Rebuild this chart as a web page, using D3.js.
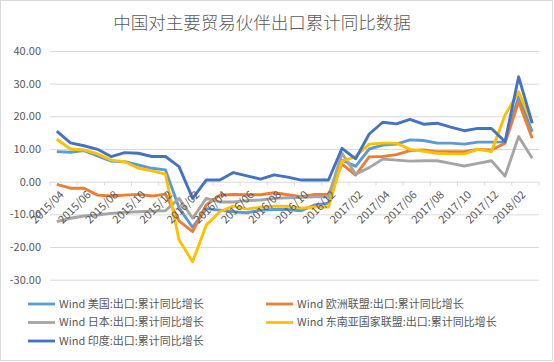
<!DOCTYPE html>
<html>
<head>
<meta charset="UTF-8" />
<script src="https://d3js.org/d3.v7.min.js"></script>
<style>
  body { margin: 0; background: #fff; }
  text { font-family: "Noto Sans CJK SC", "Noto Sans", sans-serif; fill: #595959; }
</style>
</head>
<body>
<div id="chart"></div>
<script>
  // months 2015/04 .. 2018/03
  var months = [
    "2015/04","2015/05","2015/06","2015/07","2015/08","2015/09","2015/10","2015/11","2015/12",
    "2016/01","2016/02","2016/03","2016/04","2016/05","2016/06","2016/07","2016/08","2016/09","2016/10","2016/11","2016/12",
    "2017/01","2017/02","2017/03","2017/04","2017/05","2017/06","2017/07","2017/08","2017/09","2017/10","2017/11","2017/12",
    "2018/01","2018/02","2018/03"
  ];
  var usa = [9.2,9.0,9.5,7.9,6.3,6.1,5.1,4.1,3.6,-8.0,-14.0,-8.3,-8.7,-9.2,-9.5,-8.7,-8.5,-8.5,-8.9,-7.1,-6.6,
    6.6,4.7,10.0,11.2,11.5,12.8,12.6,11.8,11.8,11.5,12.1,12.1,12.2,26.0,15.3];
  var eu = [-0.8,-2.0,-2.0,-4.1,-4.4,-4.1,-3.9,-4.4,-3.8,-12.0,-15.3,-7.1,-4.1,-3.9,-4.0,-4.0,-3.4,-4.0,-4.6,-3.9,-3.9,
    5.4,2.0,7.6,7.7,8.3,9.5,9.7,9.2,9.2,9.2,9.9,9.7,11.8,24.5,13.3];
  var japan = [-12.2,-11.2,-10.5,-10.2,-9.7,-9.4,-9.2,-9.0,-8.9,-5.1,-11.2,-5.1,-6.2,-6.2,-5.8,-5.6,-5.1,-4.9,-4.8,-4.6,-4.6,
    8.7,2.3,4.3,6.9,6.6,6.3,6.4,6.4,5.6,4.8,5.6,6.4,1.7,13.8,7.2];
  var asean = [13.0,10.0,9.7,8.5,6.6,6.1,4.1,3.3,2.3,-17.8,-24.5,-13.3,-9.2,-7.5,-8.4,-7.8,-7.5,-7.5,-8.1,-7.8,-7.8,
    6.3,7.7,11.5,11.8,11.8,9.9,9.3,8.7,8.5,8.5,9.9,9.2,20.4,27.5,17.9];
  var india = [15.5,11.9,11.0,9.9,7.7,8.9,8.7,7.7,7.7,4.6,-5.1,0.5,0.5,2.8,1.8,0.8,2.1,1.4,0.5,0.5,0.5,
    10.2,7.0,14.6,18.2,17.7,19.1,17.6,17.9,16.7,15.6,16.3,16.3,12.2,32.1,17.9];
  var seriesNames = [
    "Wind 美国:出口:累计同比增长",
    "Wind 欧洲联盟:出口:累计同比增长",
    "Wind 日本:出口:累计同比增长",
    "Wind 东南亚国家联盟:出口:累计同比增长",
    "Wind 印度:出口:累计同比增长"
  ];
  var yTicks = [-30, -20, -10, 0, 10, 20, 30, 40];
  var title = "中国对主要贸易伙伴出口累计同比数据";

  var colors = ["#5b9bd5", "#ed7d31", "#a5a5a5", "#ffc000", "#4472c4"];
  var allSeries = [usa, eu, japan, asean, india];

  var W = 554, H = 362;
  var svg = d3.select("#chart").append("svg")
    .attr("width", W)
    .attr("height", H);

  svg.append("rect")
    .attr("x", 0.5).attr("y", 0.5)
    .attr("width", 552).attr("height", 360)
    .attr("fill", "#fff")
    .attr("stroke", "#d9d9d9");

  svg.append("text")
    .attr("x", 262).attr("y", 29)
    .attr("text-anchor", "middle")
    .style("font-size", "17.5px")
    .style("font-weight", 300)
    .text(title);

  var x = d3.scaleBand().domain(months).range([50, 539]).padding(0);
  var y = d3.scaleLinear().domain([-30, 40]).range([279.7, 51]);
  var cx = d => x(d) + x.bandwidth() / 2;

  // gridlines + y labels
  var yAxis = svg.append("g")
    .attr("transform", "translate(50,0)")
    .call(d3.axisLeft(y).tickValues(yTicks).tickSize(-489).tickPadding(9)
      .tickFormat(d => d.toFixed(2)));
  yAxis.select(".domain").remove();
  yAxis.selectAll(".tick line").attr("stroke", "#d9d9d9");
  yAxis.selectAll(".tick text").style("font-size", "11px").attr("fill", "#595959");

  // category axis on the zero line
  var y0 = y(0);
  var tickMonths = months.filter((m, i) => i % 2 === 0);
  var tickX = tickMonths.map(m => x(m)).concat([x.range()[1]]);
  svg.append("g").selectAll("line")
    .data(tickX)
    .enter().append("line")
    .attr("x1", d => d).attr("x2", d => d)
    .attr("y1", y0).attr("y2", y0 + 4)
    .attr("stroke", "#d9d9d9");

  // lines
  allSeries.forEach(function (s, k) {
    var line = d3.line()
      .x((d, i) => cx(months[i]))
      .y(d => y(d));
    svg.append("path")
      .datum(s)
      .attr("fill", "none")
      .attr("stroke", colors[k])
      .attr("stroke-width", 2.9)
      .attr("stroke-linejoin", "round")
      .attr("d", line);
  });

  // x labels (drawn over lines like the original)
  svg.append("g").selectAll("text")
    .data(tickMonths)
    .enter().append("text")
    .attr("transform", d => "translate(" + (cx(d) + 5) + "," + (y0 + 11) + ") rotate(-45)")
    .attr("text-anchor", "end")
    .attr("dy", "0.35em")
    .style("font-size", "11px")
    .text(d => d);

  // legend
  var legendPos = [[28, 304], [266, 304], [28, 322.5], [266, 322.5], [28, 341]];
  var lg = svg.append("g").selectAll("g")
    .data(seriesNames)
    .enter().append("g")
    .attr("transform", (d, i) => "translate(" + legendPos[i][0] + "," + legendPos[i][1] + ")");
  lg.append("line")
    .attr("x1", 0).attr("x2", 27)
    .attr("stroke", (d, i) => colors[i])
    .attr("stroke-width", 2.8);
  lg.append("text")
    .attr("x", 31).attr("dy", "0.35em")
    .style("font-size", "11px")
    .text(d => d);
</script>
</body>
</html>
